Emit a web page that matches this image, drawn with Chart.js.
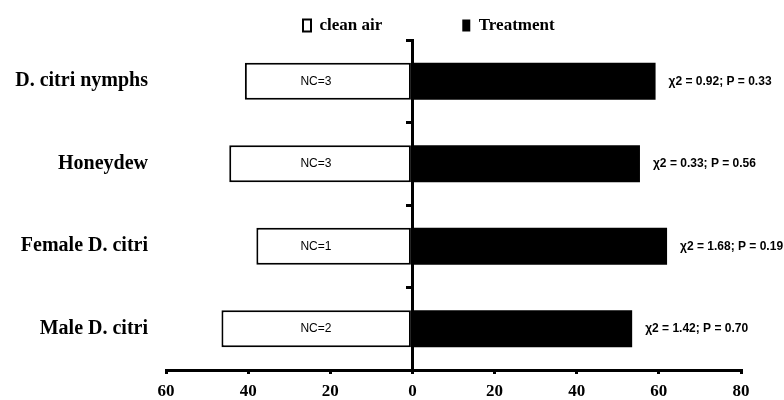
<!DOCTYPE html>
<html>
<head>
<meta charset="utf-8">
<script src="https://cdn.jsdelivr.net/npm/chart.js@4/dist/chart.umd.min.js"></script>
<style>
  html, body { margin: 0; padding: 0; background: #ffffff; }
  #wrap { width: 784px; height: 400px; }
</style>
</head>
<body>
<div id="wrap"><canvas id="c" width="784" height="400"></canvas></div>
<script>
// ---- data ----
const categories = ['D. citri nymphs', 'Honeydew', 'Female D. citri', 'Male D. citri'];
const cleanAir = [40.8, 44.6, 38.0, 46.5];      // % choosing clean air (drawn to the left)
const treatment = [59.2, 55.4, 62.0, 53.5];     // % choosing treatment
const ncLabels = ['NC=3', 'NC=3', 'NC=1', 'NC=2'];
const statLabels = ['χ2 = 0.92; P = 0.33', 'χ2 = 0.33; P = 0.56', 'χ2 = 1.68; P = 0.19', 'χ2 = 1.42; P = 0.70'];
const seriesNames = ['clean air', 'Treatment'];

// texts drawn next to / inside the bars, positioned from the library's own elements & scales
const labelPlugin = {
  id: 'barTexts',
  afterDatasetsDraw(chart) {
    const ctx = chart.ctx;
    const xs = chart.scales.x;
    ctx.save();
    ctx.fillStyle = '#000';
    ctx.textBaseline = 'middle';
    ctx.font = '12px "Liberation Sans", Arial, sans-serif';
    ctx.textAlign = 'center';
    chart.getDatasetMeta(0).data.forEach((bar, i) => {
      ctx.fillText(ncLabels[i], xs.getPixelForValue(-23.5), bar.y);
    });
    ctx.font = 'bold 12px "Liberation Sans", Arial, sans-serif';
    ctx.textAlign = 'left';
    chart.getDatasetMeta(1).data.forEach((bar, i) => {
      ctx.fillText(statLabels[i], bar.x + 13, bar.y);
    });
    ctx.restore();
  }
};

// nudges the built-in legend box after layout
const legendOffset = {
  id: 'legendOffset',
  afterLayout(chart, args, opts) {
    const lg = chart.legend;
    if (!lg) return;
    lg.left += opts.dx; lg.right += opts.dx;
    lg.top += opts.dy; lg.bottom += opts.dy;
  }
};

new Chart(document.getElementById('c'), {
  type: 'bar',
  data: {
    labels: categories,
    datasets: [
      {
        label: seriesNames[0],
        data: cleanAir.map(v => -v),
        backgroundColor: '#ffffff',
        borderColor: '#000000',
        borderWidth: 2,
        borderSkipped: false,
        barPercentage: 0.446,
        categoryPercentage: 1.0
      },
      {
        label: seriesNames[1],
        data: treatment,
        backgroundColor: '#000000',
        borderColor: '#000000',
        borderWidth: 0,
        barPercentage: 0.446,
        categoryPercentage: 1.0
      }
    ]
  },
  options: {
    indexAxis: 'y',
    responsive: false,
    animation: false,
    devicePixelRatio: 1,
    layout: { padding: { left: 12, right: 43, top: -67, bottom: 0 } },
    plugins: {
      tooltip: { enabled: false },
      legendOffset: { dx: 57, dy: 4 },
      legend: {
        display: true,
        position: 'top',
        align: 'start',
        fullSize: false,
        labels: {
          color: '#000',
          boxWidth: 8,
          boxHeight: 12,
          padding: 80,
          font: { family: '"Liberation Serif", "Times New Roman", serif', size: 17, weight: 'bold' }
        }
      }
    },
    scales: {
      x: {
        type: 'linear',
        min: -60,
        max: 80,
        stacked: true,
        z: 1,
        border: { display: true, color: '#000', width: 3 },
        grid: { drawOnChartArea: false, drawTicks: true, tickLength: 4, color: '#000', lineWidth: 3 },
        ticks: {
          stepSize: 20,
          color: '#000',
          padding: 7,
          font: { family: '"Liberation Serif", "Times New Roman", serif', size: 17, weight: 'bold' },
          callback: v => Math.abs(v)
        },
        afterFit: s => { s.height = 28; }
      },
      y: {
        type: 'category',
        position: 'left',
        stacked: true,
        offset: true,
        border: { display: false },
        grid: { display: false, drawTicks: false },
        ticks: {
          color: '#000',
          padding: 18,
          font: { family: '"Liberation Serif", "Times New Roman", serif', size: 20, weight: 'bold' }
        },
        afterFit: s => { s.width = 154; }
      },
      y2: {
        type: 'category',
        axis: 'y',
        position: { x: 0 },
        offset: true,
        z: 1,
        border: { display: true, color: '#000', width: 3 },
        grid: { offset: true, drawOnChartArea: false, drawTicks: true, tickLength: 5, color: '#000', lineWidth: 3 },
        ticks: { display: false }
      }
    }
  },
  plugins: [labelPlugin, legendOffset]
});
</script>
</body>
</html>
